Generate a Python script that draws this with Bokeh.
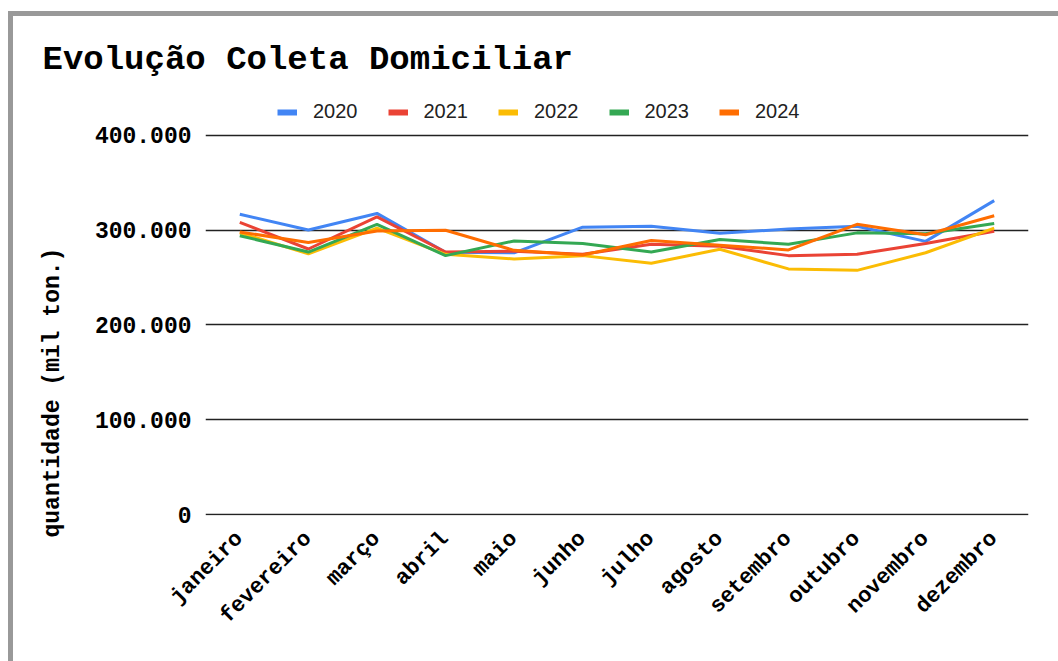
from math import pi
from bokeh.plotting import figure
from bokeh.models import (Range1d, FixedTicker, CustomJSTickFormatter, Legend,
                          LegendItem, ColumnDataSource, Column, Title)
from bokeh.embed import file_html
from bokeh.resources import INLINE

months = ["janeiro", "fevereiro", "março", "abril", "maio", "junho",
          "julho", "agosto", "setembro", "outubro", "novembro", "dezembro"]
years = ["2020", "2021", "2022", "2023", "2024"]
v2020 = [316600, 300000, 317500, 276500, 276000, 303000, 304000, 296600, 301000, 304000, 288000, 331000]
v2021 = [308000, 280000, 313800, 276800, 277600, 274400, 285000, 283000, 273000, 274400, 285700, 298700]
v2022 = [297000, 275000, 302000, 274400, 269500, 273000, 265000, 279700, 259000, 257500, 276000, 302000]
v2023 = [294000, 276800, 306000, 273000, 288500, 285700, 276800, 290000, 285000, 297000, 296000, 306800]
v2024 = [298000, 286800, 299000, 299700, 278600, 273700, 289000, 284000, 279000, 306000, 295000, 315000]
y_ticks = [0, 100000, 200000, 300000, 400000]

series = [v2020, v2021, v2022, v2023, v2024]
colors = ["#4285F4", "#EA4335", "#FBBC04", "#34A853", "#FF6D01"]

MONO = "Liberation Mono"

# frame: left 192, right 1015, top 76, bottom 499 (figure px)
p = figure(x_range=months, y_range=Range1d(-1000, 445000),
           width=1045, height=645, output_backend="svg", toolbar_location=None,
           title="Evolução Coleta Domiciliar",
           min_border_left=192, min_border_right=30, min_border_top=76, min_border_bottom=146)
p.outline_line_color = None
p.background_fill_color = "white"
p.border_fill_color = "white"

p.title.text_font = MONO
p.title.text_font_style = "bold"
p.title.text_font_size = "34px"
p.title.text_color = "#000000"
p.title.align = "left"
p.title.offset = -163
p.title.standoff = 28

items = []
for name, vals, col in zip(years, series, colors):
    src = ColumnDataSource(dict(x=months, y=vals))
    p.line("x", "y", source=src, line_color=col, line_width=3)
    # legend swatch: thicker bar, draws nothing in the plot (NaN value)
    sw = p.line(x=[months[0]], y=[float("nan")], line_color=col, line_width=6)
    items.append(LegendItem(label=name, renderers=[sw]))

# grid
p.xgrid.grid_line_color = None
p.ygrid.grid_line_color = "#222222"
p.ygrid.grid_line_width = 1.5

# y axis
ya = p.yaxis[0]
ya.ticker = FixedTicker(ticks=y_ticks)
ya.formatter = CustomJSTickFormatter(
    code="return Math.round(tick).toString().replace(/\\B(?=(\\d{3})+(?!\\d))/g, '.');")
ya.axis_line_color = None
ya.major_tick_line_color = None
ya.minor_tick_line_color = None
ya.major_tick_out = 0
ya.major_label_standoff = 14
ya.major_label_text_font = MONO
ya.major_label_text_font_style = "bold"
ya.major_label_text_font_size = "23px"
ya.major_label_text_color = "#000000"

ylab = Title(text="quantidade (mil ton.)", text_font=MONO, text_font_style="bold",
             text_font_size="23px", text_color="#000000", align="left", offset=-22,
             vertical_align="middle", standoff=49)
p.add_layout(ylab, "left")

# x axis
xa = p.xaxis[0]
xa.axis_line_color = None
xa.major_tick_line_color = None
xa.minor_tick_line_color = None
xa.major_tick_out = 0
xa.major_label_orientation = pi / 4
xa.major_label_standoff = 20
xa.major_label_text_font = MONO
xa.major_label_text_font_style = "bold"
xa.major_label_text_font_size = "22px"
xa.major_label_text_color = "#000000"

legend = Legend(items=items, orientation="horizontal", location=(72, 392),
                label_text_font="Liberation Sans", label_text_font_size="20px",
                label_text_color="#222222", glyph_width=20, glyph_height=20,
                label_standoff=16, spacing=30, padding=4, margin=0,
                border_line_color=None, background_fill_alpha=0)
p.add_layout(legend, "center")

root = Column(children=[p], styles={"margin-left": "8px", "margin-top": "11px",
                                    "border-left": "5px solid #999999",
                                    "border-top": "5px solid #999999"})

open("out.html", "w").write(file_html(root, INLINE))
